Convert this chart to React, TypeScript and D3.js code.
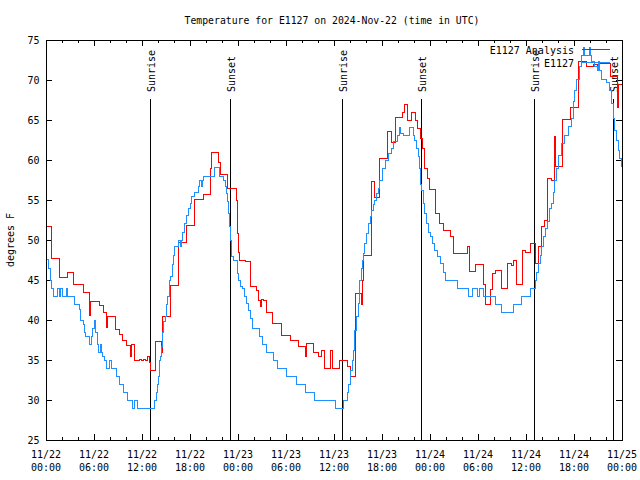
import React from "react";
import * as d3 from "d3";

// ---- data (hours since 2024-11-22 00:00 UTC, degrees F) ----
const analysisHours = [0, 0.66, 1.66, 2.72, 3.46, 4.66, 5.44, 5.54, 6.66, 7.21, 7.54, 7.66, 8.63, 9.16, 9.5, 10.09, 10.56, 10.66, 11.0, 11.66, 11.88, 12.13, 12.38, 12.71, 12.91, 13.04, 13.63, 14.44, 14.56, 15.5, 16.59, 17.54, 18.59, 19.63, 20.54, 20.66, 21.56, 21.75, 22.63, 23.46, 23.75, 23.88, 23.96, 24.04, 24.13, 24.88, 25.56, 26.29, 26.59, 26.79, 26.88, 27.16, 27.59, 28.34, 29.41, 30.5, 31.59, 32.44, 32.56, 33.44, 34.04, 34.46, 34.75, 35.59, 35.84, 36.63, 37.63, 38.06, 38.63, 39.41, 39.54, 39.69, 40.66, 41.09, 41.63, 42.63, 43.16, 43.66, 44.59, 44.84, 45.16, 45.63, 46.21, 46.41, 46.75, 47.04, 47.25, 47.66, 47.88, 48.63, 49.13, 49.66, 50.59, 50.91, 52.63, 52.94, 53.63, 54.63, 54.91, 55.56, 55.75, 56.16, 56.88, 57.63, 58.13, 58.41, 58.75, 59.56, 59.91, 60.54, 61.19, 61.56, 61.88, 62.31, 62.63, 63.16, 63.56, 63.66, 64.5, 65.59, 66.56, 67.54, 68.38, 68.88, 69.0, 70.56, 71.38, 71.5];
const analysisTemps = [51.7, 47.7, 45.3, 46.0, 44.4, 43.5, 40.6, 42.3, 41.8, 41.0, 39.1, 40.4, 38.8, 38.2, 37.5, 36.8, 35.5, 36.9, 34.9, 35.1, 34.9, 35.1, 34.9, 35.4, 34.7, 33.75, 37.3, 35.9, 40.5, 44.3, 49.75, 51.8, 55.1, 55.75, 59.0, 61.0, 59.7, 58.25, 56.5, 56.4, 55.0, 52.9, 50.8, 48.4, 47.5, 47.3, 44.25, 43.75, 42.5, 41.75, 42.6, 42.5, 41.0, 39.6, 38.1, 37.4, 36.75, 35.4, 37.1, 36.0, 35.4, 36.2, 34.0, 36.2, 34.0, 35.0, 34.2, 32.9, 43.3, 42.0, 45.0, 48.1, 57.3, 55.3, 60.2, 63.6, 62.2, 65.3, 66.0, 66.9, 65.0, 65.9, 65.0, 64.0, 62.7, 61.5, 59.0, 57.7, 56.3, 53.3, 52.1, 51.25, 50.5, 48.3, 49.25, 46.1, 47.0, 44.4, 41.9, 43.8, 45.8, 46.2, 44.0, 47.1, 46.8, 47.5, 44.5, 48.75, 48.4, 49.6, 47.1, 49.2, 51.7, 52.5, 57.7, 57.4, 62.9, 59.2, 65.1, 66.6, 72.3, 71.7, 71.9, 71.25, 72.1, 70.5, 66.6, 69.5];

const stationHours = [0, 0.29, 0.5, 0.71, 0.91, 1.38, 1.63, 1.75, 2.06, 2.5, 2.63, 3.5, 4.13, 4.25, 4.66, 4.75, 4.88, 5.38, 5.71, 5.84, 6.0, 6.16, 6.38, 6.56, 6.84, 6.94, 7.06, 7.25, 7.5, 7.91, 8.21, 8.84, 9.16, 9.69, 10.21, 10.84, 11.06, 11.44, 13.54, 13.75, 13.94, 14.06, 14.19, 14.31, 14.44, 14.56, 14.69, 14.88, 15.0, 15.19, 15.44, 15.56, 15.75, 15.94, 16.06, 16.56, 16.75, 16.88, 17.06, 17.25, 17.5, 17.81, 18.09, 18.21, 18.5, 19.0, 19.21, 19.38, 19.5, 19.63, 21.09, 21.71, 22.13, 22.38, 22.54, 22.69, 22.75, 22.88, 23.0, 23.13, 23.38, 23.88, 24.09, 24.31, 24.5, 24.75, 25.0, 25.25, 25.56, 25.81, 26.69, 27.09, 27.59, 28.38, 28.88, 30.04, 31.25, 32.44, 33.5, 36.19, 37.19, 37.63, 37.84, 38.06, 38.25, 38.38, 38.54, 38.75, 39.0, 39.16, 39.41, 39.59, 39.71, 39.84, 40.06, 40.31, 40.54, 40.66, 40.88, 41.0, 41.25, 41.5, 41.69, 42.0, 42.41, 42.84, 43.16, 43.46, 43.88, 44.13, 44.29, 44.71, 45.38, 45.91, 46.09, 46.34, 46.5, 46.63, 46.81, 46.91, 47.16, 47.34, 47.59, 47.75, 48.0, 48.34, 48.59, 48.91, 49.34, 49.66, 49.88, 51.41, 52.81, 53.34, 53.91, 54.16, 54.66, 56.13, 56.96, 58.41, 59.44, 60.59, 61.13, 61.31, 61.5, 61.75, 61.94, 62.13, 62.38, 62.63, 62.96, 63.16, 63.38, 63.59, 63.79, 64.0, 64.41, 64.84, 65.25, 65.66, 65.88, 66.09, 66.29, 66.71, 66.91, 67.13, 67.34, 67.88, 68.04, 68.16, 68.59, 68.88, 69.0, 69.21, 69.41, 70.04, 70.46, 70.66, 70.88, 71.09, 71.29, 71.5, 71.71, 71.91];
const stationTemps = [47.6, 46.5, 45.0, 44.0, 43.0, 44.0, 43.0, 44.0, 43.0, 44.0, 43.0, 42.0, 41.3, 40.0, 39.4, 38.5, 38.0, 37.0, 38.0, 39.0, 40.0, 38.5, 37.0, 36.0, 37.0, 36.0, 35.4, 35.0, 34.0, 35.0, 34.0, 33.0, 32.0, 31.0, 30.0, 29.0, 30.0, 29.0, 30.0, 31.0, 32.0, 33.0, 35.0, 35.4, 36.7, 38.4, 39.8, 40.5, 41.9, 42.9, 45.0, 45.5, 46.9, 48.1, 49.2, 50.0, 49.2, 50.0, 51.0, 52.1, 53.1, 54.0, 54.6, 55.4, 56.0, 56.7, 57.5, 56.7, 57.5, 58.0, 59.1, 58.0, 57.5, 56.7, 55.8, 54.8, 53.3, 51.7, 50.0, 48.0, 47.5, 45.8, 45.0, 44.2, 44.0, 43.0, 42.1, 41.25, 40.2, 39.0, 37.9, 37.0, 36.0, 35.0, 34.0, 33.0, 32.0, 31.0, 30.0, 29.0, 30.0, 31.0, 32.0, 33.75, 35.0, 36.25, 38.75, 40.4, 42.1, 45.0, 46.5, 47.5, 48.3, 49.6, 50.8, 52.1, 53.0, 53.75, 54.5, 55.0, 55.8, 56.5, 57.5, 59.0, 60.0, 60.8, 61.5, 62.3, 63.1, 64.1, 63.3, 63.1, 64.1, 63.1, 62.5, 61.5, 60.4, 59.0, 56.9, 56.25, 54.6, 53.3, 52.1, 51.0, 50.4, 49.6, 48.75, 48.0, 47.1, 46.0, 45.0, 44.0, 43.0, 44.0, 43.0, 44.0, 43.0, 42.0, 41.0, 42.0, 43.0, 44.0, 45.0, 46.0, 47.1, 48.1, 49.2, 50.4, 51.5, 52.3, 54.0, 54.6, 56.0, 57.5, 59.0, 60.6, 62.1, 63.1, 64.2, 65.2, 67.3, 68.75, 70.1, 71.7, 73.1, 74.1, 73.1, 74.1, 73.1, 72.3, 71.7, 71.25, 72.3, 71.25, 70.1, 69.7, 68.75, 67.1, 65.2, 63.75, 62.5, 61.25, 60.2, 59.2];

const sunHours = [13.09, 23.04, 37.04, 46.91, 61.04, 70.91];
const sunLabels = ["Sunrise", "Sunset", "Sunrise", "Sunset", "Sunrise", "Sunset"];

const xTickDates = ["11/22", "11/22", "11/22", "11/22", "11/23", "11/23", "11/23", "11/23", "11/24", "11/24", "11/24", "11/24", "11/25"];
const xTickTimes = ["00:00", "06:00", "12:00", "18:00", "00:00", "06:00", "12:00", "18:00", "00:00", "06:00", "12:00", "18:00", "00:00"];
const yTicks = [25, 30, 35, 40, 45, 50, 55, 60, 65, 70, 75];

const seriesNames = ["E1127 Analysis", "E1127"];
const seriesColors = ["#ff0000", "#1e90ff"];

const FONT = "'DejaVu Sans Mono', monospace";

export default function App() {
  const x = d3.scaleLinear().domain([0, 72]).range([46, 622]);
  const y = d3.scaleLinear().domain([25, 75]).range([440, 40]);
  const line = d3
    .line<[number, number]>()
    .x((d) => x(d[0]))
    .y((d) => y(d[1]))
    .curve(d3.curveStepAfter);

  const toPts = (hs: number[], ts: number[]): [number, number][] => {
    const pts = hs.map((h, i) => [h, ts[i]] as [number, number]);
    pts.push([72, ts[ts.length - 1]]);
    return pts;
  };
  const series = [toPts(analysisHours, analysisTemps), toPts(stationHours, stationTemps)];

  const minorTicks = d3.range(0, 73, 2);
  const [x0, x1] = x.range();
  const [yb, yt] = y.range();

  return (
    <svg
      width={640}
      height={480}
      style={{ position: "absolute", left: 0, top: 0, background: "#fff" }}
      fontFamily={FONT}
    >
      <rect x={0} y={0} width={640} height={480} fill="#fff" />
      <text x={332} y={24} fontSize={9.8} textAnchor="middle" fill="#000">
        Temperature for E1127 on 2024-Nov-22 (time in UTC)
      </text>

      {/* y ticks + labels */}
      {yTicks.map((v) => (
        <g key={"y" + v} shapeRendering="crispEdges">
          <line x1={x0} x2={x0 + 6} y1={y(v)} y2={y(v)} stroke="#000" />
          <line x1={x1} x2={x1 - 6} y1={y(v)} y2={y(v)} stroke="#000" />
          <text x={39.5} y={y(v) + 4} fontSize={10} textAnchor="end" fill="#000">
            {v}
          </text>
        </g>
      ))}

      {/* x ticks */}
      {minorTicks.map((h) => {
        const len = h % 6 === 0 ? 6 : 3;
        return (
          <g key={"x" + h} shapeRendering="crispEdges">
            <line x1={x(h)} x2={x(h)} y1={yb} y2={yb - len} stroke="#000" />
            <line x1={x(h)} x2={x(h)} y1={yt} y2={yt + len} stroke="#000" />
          </g>
        );
      })}
      {xTickDates.map((d, i) => (
        <g key={"xl" + i}>
          <text x={x(i * 6)} y={457.5} fontSize={10} textAnchor="middle" fill="#000">
            {d}
          </text>
          <text x={x(i * 6)} y={471} fontSize={10} textAnchor="middle" fill="#000">
            {xTickTimes[i]}
          </text>
        </g>
      ))}

      <text
        transform={`translate(13.5,240) rotate(-90)`}
        fontSize={10}
        textAnchor="middle"
        fill="#000"
      >
        degrees F
      </text>

      {/* sunrise / sunset */}
      {sunHours.map((h, i) => (
        <g key={"s" + i}>
          <line
            x1={x(h)}
            x2={x(h)}
            y1={99}
            y2={yb}
            stroke="#000"
            shapeRendering="crispEdges"
          />
          <text
            transform={`translate(${x(h) + 4.3},92) rotate(-90)`}
            fontSize={10}
            textAnchor="start"
            fill="#000"
          >
            {sunLabels[i]}
          </text>
        </g>
      ))}

      {/* series */}
      {series.map((pts, i) => (
        <path
          key={"p" + i}
          d={line(pts) || ""}
          fill="none"
          stroke={seriesColors[i]}
          strokeWidth={1}
          shapeRendering="crispEdges"
        />
      ))}

      {/* legend */}
      {seriesNames.map((n, i) => (
        <g key={"lg" + i}>
          <text x={574} y={54 + i * 13} fontSize={10} textAnchor="end" fill="#000">
            {n}
          </text>
          <line
            x1={582}
            x2={610}
            y1={49.5 + i * 13}
            y2={49.5 + i * 13}
            stroke={seriesColors[i]}
            shapeRendering="crispEdges"
          />
        </g>
      ))}

      {/* border */}
      <rect
        x={x0}
        y={yt}
        width={x1 - x0}
        height={yb - yt}
        fill="none"
        stroke="#000"
        shapeRendering="crispEdges"
      />
    </svg>
  );
}
